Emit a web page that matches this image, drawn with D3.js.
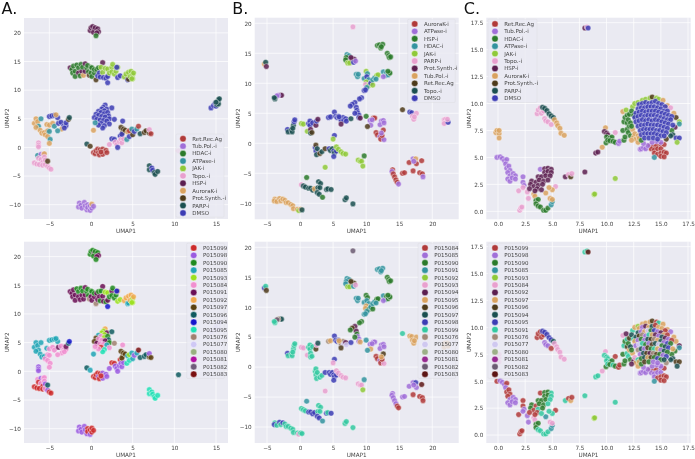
<!DOCTYPE html>
<html>
<head>
<meta charset="utf-8">
<script src="https://d3js.org/d3.v7.min.js"></script>
<style>
html,body{margin:0;padding:0;background:#fff;}
text{font-family:"DejaVu Sans",sans-serif;}
svg{display:block;filter:blur(0.3px);}
</style>
</head>
<body>
<script>
// moa codes used in the point lists
var moaNames = {R:"Ret.Rec.Ag",T:"Tub.Pol.-i",H:"HDAC-i",A:"ATPase-i",J:"JAK-i",O:"Topo.-i",S:"HSP-i",K:"AuroraK-i",P:"Prot.Synth.-i",F:"PARP-i",D:"DMSO"};

var moaOrderAC = ["R","T","H","A","J","O","S","K","P","F","D"];
var moaOrderB = ["K","A","S","H","J","F","P","T","R","O","D"];
var plateOrderA = [99,98,90,85,93,84,91,92,97,96,94,95,76,77,80,81,82,83];
var plateOrderB = [84,85,90,91,92,93,94,95,96,97,98,99,76,77,80,81,82,83];
var plateOrderC = [99,98,90,85,93,84,92,97,96,94,95,91,76,77,80,81,82,83];

var moaPalette = ["#b03a3a","#a06fd8","#2b7a2b","#33939f","#8fc93a","#e8a0cf","#5c1f50","#d9a25f","#4d3a1a","#1a4f50","#3c3cb4"];
var platePaletteA = ["#cc2a2a","#9a5be0","#1f8a1f","#20a5b5","#9be01f","#f08fd0","#6a0f55","#f0a84f","#5a4010","#0f5a5f","#1515cc","#20dfb5","#a08070","#cfc8f5","#98b080","#b010a0","#6f5a7a","#7a0f10"];
var platePaletteBC = ["#b03a3a","#a06fd8","#2b7a2b","#33939f","#8fc93a","#e8a0cf","#5c1f50","#d9a25f","#4d3a1a","#1a4f50","#3c3cb4","#33c8a0","#a08878","#cfc8f0","#9cb088","#962a90","#6b5b72","#5c1515"];

var ticksAx = [-5,0,5,10,15], ticksAy = [-10,-5,0,5,10,15,20];
var ticksBx = [-5,0,5,10,15,20], ticksBy = [-10,-5,0,5,10,15,20];
var ticksC = [0,2.5,5,7.5,10,12.5,15,17.5];

// [umap1, umap2, moa, plate]
var pointsA = [
[-0.1,20.4,"S",90],[0.0,20.9,"S",90],[0.2,21.1,"S",90],[0.4,20.6,"S",91],[0.3,20.1,"S",90],[0.5,20.9,"S",90],[0.8,20.7,"S",90],[0.9,20.2,"S",91],[0.7,20.0,"S",91],[0.6,19.5,"H",90],
[-2.5,13.9,"S",91],[-2.3,13.6,"H",91],[-2.1,14.2,"H",91],[-2.2,13.0,"H",91],[-1.9,13.3,"H",91],[-1.9,12.4,"H",91],[-1.7,14.4,"H",90],[-1.5,13.9,"H",90],[-1.5,13.0,"S",91],[-1.3,12.5,"H",91],[-1.2,14.5,"H",90],[-1.1,13.3,"S",91],[-1.0,14.0,"H",90],[-0.9,12.6,"K",91],[-0.7,13.3,"S",91],[-0.7,14.6,"S",91],[-0.5,13.9,"H",90],[-0.4,14.3,"H",90],[-0.3,13.2,"H",90],[-0.2,12.6,"P",76],[0.0,14.0,"H",90],[0.1,13.9,"H",90],
[0.0,13.0,"H",91],[0.1,12.4,"H",91],[0.4,13.0,"H",91],[0.4,13.6,"H",90],[0.6,11.8,"P",76],[0.7,13.6,"H",91],[0.8,12.5,"D",91],[0.9,13.9,"H",90],[1.0,13.0,"D",91],[1.1,12.3,"D",90],[1.4,14.8,"S",91],[1.2,14.0,"J",90],[1.4,13.1,"J",91],[1.5,12.2,"D",91],[1.7,13.8,"J",93],[1.8,12.1,"D",90],[2.0,13.7,"J",93],[2.0,12.4,"D",91],[2.0,11.3,"D",94],[2.2,13.0,"J",90],[2.5,14.0,"J",91],[2.5,13.2,"J",90],[2.6,14.5,"J",90],[2.8,12.8,"J",90],[3.0,13.3,"J",90],[3.1,13.9,"H",90],[3.2,12.2,"D",93],[3.2,14.0,"J",92],[3.5,12.5,"D",93],[3.1,14.0,"D",94],
[4.0,12.3,"J",92],[4.2,12.8,"J",92],[4.4,11.8,"D",85],[4.5,13.1,"J",92],[4.5,11.9,"P",85],[4.7,12.4,"J",92],[4.8,13.3,"J",92],[5.0,12.0,"J",93],[5.0,12.7,"J",93],[5.1,13.0,"J",92],[4.9,12.0,"J",93],
[14.4,6.9,"D",77],[14.7,7.3,"D",77],[14.9,7.7,"D",77],[15.0,7.2,"D",77],[15.1,7.5,"F",77],[15.2,8.0,"F",77],[15.3,7.6,"F",77],[15.3,8.3,"F",77],[15.4,8.5,"F",77],[15.0,7.9,"F",77],
[1.7,7.4,"D",92],[1.5,7.0,"D",93],[1.3,6.7,"D",93],[1.9,6.7,"D",91],[1.6,6.4,"D",93],[2.5,6.9,"D",96],[0.9,6.3,"D",85],[1.2,6.1,"D",84],[1.6,5.9,"D",93],[2.0,6.1,"D",90],[2.1,5.5,"D",96],[0.6,5.8,"D",97],[0.9,5.6,"D",84],[1.3,5.4,"D",84],[1.7,5.3,"D",91],[2.2,5.0,"D",90],[2.8,4.9,"D",76],[0.4,5.2,"D",97],[0.7,4.9,"D",91],[1.1,4.8,"D",84],[1.5,4.7,"D",84],[1.9,4.6,"D",85],[2.2,4.1,"D",84],[1.2,4.2,"D",99],[1.6,3.8,"D",95],[1.4,3.4,"D",95],[0.9,3.9,"D",84],[0.5,4.3,"A",84],[0.3,3.0,"K",85],[3.8,4.6,"D",84],
[-6.8,4.2,"K",85],[-6.6,5.0,"K",85],[-6.4,4.5,"K",85],[-6.3,3.7,"A",85],[-6.6,3.5,"K",85],[-6.1,3.0,"K",85],[-5.9,2.5,"K",85],[-5.6,2.6,"K",85],[-5.5,2.2,"K",84],[-5.2,2.9,"K",84],[-5.2,1.9,"K",84],[-5.0,2.8,"A",84],[-4.9,1.4,"A",84],[-5.0,0.7,"K",84],[-6.0,5.0,"A",85],[-5.3,4.0,"K",85],[-5.0,3.9,"K",84],[-4.6,4.2,"K",84],[-4.4,3.7,"A",84],[-5.0,5.4,"D",85],[-4.7,5.5,"D",85],[-4.4,5.6,"D",85],[-4.0,5.2,"D",85],[-4.2,5.7,"K",85],[-3.9,4.2,"D",91],[-3.6,4.4,"D",84],[-3.3,3.7,"D",84],[-3.0,3.8,"D",84],[-3.5,3.2,"K",84],[-3.2,3.4,"D",84],[-4.0,2.9,"A",84],[-3.0,4.3,"D",91],[-2.7,4.9,"P",96],[-2.6,5.2,"F",94],
[-6.3,0.8,"O",98],[-6.3,0.4,"O",98],[-6.3,0.1,"O",98],[-6.4,-1.4,"A",84],[-6.0,-1.2,"T",98],[-5.7,-1.2,"O",84],[-5.6,-1.1,"K",84],[-6.8,-2.7,"O",99],[-6.5,-2.9,"O",99],[-6.3,-1.9,"O",99],[-6.0,-2.1,"O",84],[-5.8,-2.6,"O",99],[-5.6,-1.7,"O",84],[-5.5,-2.2,"O",98],[-6.2,-3.0,"O",99],[-5.8,-3.1,"O",99],[-5.5,-3.0,"O",84],[-5.2,-3.3,"O",98],[-5.0,-3.6,"O",99],[-4.8,-3.8,"O",99],[-5.2,-2.4,"P",96],
[-0.5,0.6,"F",96],[-0.1,0.2,"P",85],[0.3,-0.9,"R",99],[0.5,-1.1,"R",99],[0.6,-0.6,"R",99],[0.8,-0.3,"R",99],[0.9,-0.9,"R",98],[1.1,-0.4,"R",99],[1.0,-1.3,"R",99],[1.4,-0.3,"R",98],[1.5,-0.8,"R",98],[1.4,-1.2,"R",98],[1.8,-0.5,"R",98],[1.9,-0.9,"R",98],[1.2,-0.8,"R",99],[2.2,0.5,"O",98],[2.5,1.5,"D",99],[2.8,1.4,"D",99],[2.9,0.9,"O",98],[3.1,0.5,"O",98],[3.2,0.0,"D",98],[3.4,1.0,"O",98],[3.5,2.0,"D",99],[3.6,1.4,"O",98],[3.7,0.8,"O",98],[3.9,1.5,"O",98],[3.8,2.6,"P",97],[3.6,3.5,"P",97],[3.9,3.2,"P",97],[3.7,2.3,"D",97],[4.1,3.0,"P",97],[4.4,2.7,"K",85],[4.3,1.4,"A",95],[4.6,1.9,"D",95],[4.6,2.9,"R",93],[4.9,3.2,"A",85],[5.0,2.2,"P",85],[5.2,2.8,"D",98],[5.5,3.2,"A",85],[5.7,3.7,"R",83],[5.9,2.4,"F",96],[6.4,2.6,"P",96],[6.6,2.9,"P",96],[7.0,2.5,"P",97],[7.0,3.1,"O",98],[7.2,2.4,"R",97],
[10.5,-0.6,"O",96],
[7.0,-3.2,"F",95],[7.0,-3.9,"F",95],[7.3,-3.6,"D",95],[7.4,-4.0,"D",95],[7.6,-4.4,"F",95],[7.7,-4.7,"F",95],[8.0,-4.2,"F",95],
[-1.4,-9.7,"T",98],[-1.5,-10.4,"T",98],[-1.2,-10.1,"T",98],[-1.1,-10.6,"T",98],[-0.8,-9.6,"T",98],[-0.7,-10.2,"T",98],[-0.5,-10.9,"T",98],[-0.4,-10.0,"T",99],[-0.4,-10.5,"T",99],[-0.1,-11.0,"T",98],[-0.1,-10.2,"T",99],[0.1,-10.6,"T",99],[0.1,-9.9,"K",99],[0.3,-10.3,"T",99]
];

var pointsB = [
[8.0,19.4,"F",82],[-5.4,13.2,"T",98],[-5.2,13.5,"O",99],[-5.1,12.8,"P",96],
[-3.0,8.0,"P",97],[-2.8,8.0,"P",97],[-3.3,8.0,"A",76],[-3.5,7.9,"A",82],[-3.8,7.4,"O",99],[-3.9,7.6,"O",99],
[11.7,16.3,"S",91],[12.0,16.4,"S",91],[12.2,15.9,"S",91],[12.5,16.5,"S",91],[12.3,16.1,"S",91],
[13.2,15.0,"S",90],[13.4,14.6,"S",90],[13.5,14.3,"S",90],[13.7,14.4,"S",90],
[7.1,14.8,"H",91],[7.4,14.6,"H",91],[7.0,14.3,"S",91],[6.9,13.9,"S",91],[7.2,13.4,"J",92],[7.5,13.4,"J",92],[7.9,14.1,"P",96],[8.2,14.0,"P",96],[8.1,13.5,"D",91],[8.4,13.7,"A",93],[7.7,14.3,"P",96],
[8.5,11.5,"H",91],[8.7,11.1,"H",91],[8.8,11.5,"H",91],[9.7,10.8,"H",91],[10.0,12.0,"J",90],[10.2,11.6,"H",90],[10.1,11.1,"D",91],[10.4,10.6,"H",91],[10.0,10.2,"J",95],[9.9,9.8,"F",95],[10.4,9.6,"J",90],[10.8,10.1,"J",90],[10.7,10.0,"D",91],[11.0,9.7,"J",90],[11.0,10.6,"H",91],[11.3,10.9,"H",91],[11.6,11.3,"J",90],[11.8,11.4,"J",90],[11.5,10.7,"H",91],[12.6,11.9,"H",91],[12.9,11.3,"H",91],[13.1,11.8,"H",90],[13.3,11.4,"H",90],[13.5,11.8,"S",90],[13.6,11.7,"S",90],[12.6,11.1,"A",85],[13.3,12.0,"S",90],
[9.7,8.8,"D",91],[10.1,9.3,"H",91],[9.9,8.9,"D",91],[9.3,7.6,"D",90],[9.0,7.4,"D",90],[8.3,6.8,"D",94],[7.9,6.5,"D",96],[7.6,6.2,"D",90],[8.5,6.0,"D",94],[8.6,5.5,"D",90],[8.7,5.1,"D",85],[8.9,4.7,"D",85],[8.3,5.0,"D",90],[8.9,4.3,"D",85],
[9.1,4.2,"P",95],[10.0,4.5,"S",91],[11.1,4.2,"K",85],[11.3,4.2,"K",85],[10.6,3.8,"A",85],[10.9,3.9,"A",85],[10.7,3.0,"A",95],[10.2,2.8,"R",91],
[4.3,4.3,"D",76],[4.6,4.4,"D",95],[5.2,5.2,"D",98],[5.4,4.5,"D",98],[5.6,4.3,"D",98],[5.8,4.5,"D",98],[6.0,4.2,"D",76],[6.2,3.9,"D",76],[6.5,4.3,"D",76],[6.6,3.8,"D",77],[6.9,4.1,"D",94],[7.0,3.7,"D",77],[6.2,3.2,"P",96],[5.9,4.4,"D",95],[7.7,4.1,"O",98],
[12.3,3.7,"A",85],[12.6,3.8,"A",85],[12.1,3.1,"A",85],[12.7,3.4,"A",85],[12.6,2.2,"K",96],[11.5,1.8,"K",84],[11.7,1.4,"K",84],[12.1,1.1,"A",85],[12.4,0.9,"A",85],[12.2,0.7,"K",84],[12.7,0.6,"A",93],[12.4,1.3,"K",84],[12.3,1.7,"A",95],
[15.5,5.6,"R",99],[16.6,5.2,"D",95],[16.9,5.1,"D",95],[17.0,4.5,"F",95],[17.2,4.0,"F",95],[17.6,5.0,"F",95],[17.3,4.4,"F",95],
[21.8,3.9,"F",95],[22.0,4.0,"F",95],[22.2,3.6,"F",95],[21.8,3.3,"F",95],[22.4,3.5,"D",95],[22.3,4.0,"F",95],
[-1.9,2.3,"D",98],[-1.8,1.9,"O",99],[-1.3,2.2,"O",99],[-1.2,1.9,"O",99],[-1.0,3.0,"O",99],[-0.9,3.6,"D",99],[-0.8,3.9,"D",99],[-1.1,2.5,"O",99],
[0.2,3.3,"J",93],[0.5,3.2,"J",93],[1.1,2.0,"J",93],[1.3,3.3,"D",99],[1.5,3.7,"D",99],[1.5,3.0,"D",99],[1.6,2.3,"P",99],[1.6,1.7,"O",99],[1.8,1.8,"R",99],[1.9,3.4,"D",99],[2.4,3.0,"P",96],[2.5,3.7,"D",93],[2.7,4.0,"P",97],
[5.2,1.3,"D",98],[5.0,0.7,"J",93],
[2.3,-0.7,"D",99],[2.4,-0.3,"R",99],[2.4,-1.3,"D",99],[2.6,-0.9,"O",99],[2.5,-1.9,"O",99],[3.0,-1.7,"R",99],[3.3,-1.4,"O",99],[3.8,-0.9,"R",98],[4.4,-0.9,"D",98],[4.6,-1.2,"O",98],[4.9,-0.9,"O",98],[5.1,-1.3,"D",98],[5.2,-1.6,"O",98],[5.1,-2.2,"D",98],[5.5,-1.3,"D",98],[5.5,-0.6,"J",93],[5.8,-1.0,"J",93],[6.2,-1.4,"J",93],[6.5,-1.7,"J",93],[6.9,-1.8,"J",93],
[8.8,-2.8,"J",93],[9.1,-3.0,"J",93],[9.3,-3.0,"J",93],[9.7,-2.1,"S",91],[9.5,-3.8,"J",92],[3.8,-4.0,"J",93],
[14.0,-4.4,"K",85],[13.9,-4.7,"A",85],[14.1,-5.1,"K",85],[14.3,-5.6,"K",85],[14.5,-6.1,"K",85],[14.7,-6.5,"K",84],[14.9,-6.8,"A",84],
[15.5,-5.0,"K",85],[15.8,-4.9,"K",85],[16.5,-3.2,"K",85],[17.1,-2.6,"A",85],[17.5,-2.6,"T",98],[17.6,-3.4,"K",85],[17.1,-4.6,"K",84],[18.1,-4.9,"K",84],[18.4,-2.9,"K",83],[18.5,-5.1,"K",84],[18.6,-5.6,"A",84],[17.2,-3.0,"A",85],
[1.0,-5.7,"S",91],[0.2,-6.9,"F",99],[0.5,-7.1,"O",99],[0.8,-7.3,"O",99],[1.3,-7.5,"O",98],[1.6,-7.5,"O",98],[1.9,-7.8,"O",98],[2.2,-7.6,"T",98],[2.8,-6.4,"O",99],[3.1,-6.7,"O",99],[2.7,-7.4,"O",99],[3.0,-7.4,"O",99],[2.6,-8.2,"O",98],[2.9,-8.5,"O",98],[3.4,-9.0,"S",91],[4.0,-7.7,"O",98],[4.2,-7.6,"O",99],[4.7,-7.7,"O",98],
[6.8,-9.4,"O",99],[7.0,-9.1,"O",99],[8.0,-10.1,"O",99],
[-3.8,-9.3,"T",99],[-3.9,-9.6,"T",98],[-3.5,-9.7,"T",99],[-3.1,-9.2,"T",98],[-2.9,-9.6,"T",99],[-2.6,-9.3,"T",98],[-2.3,-9.5,"T",99],[-2.1,-9.9,"T",99],[-1.8,-9.9,"T",99],[-1.4,-10.2,"T",99],[-1.1,-10.4,"T",99],[-1.0,-10.9,"T",99],[-0.4,-11.0,"T",99],[-0.2,-11.2,"J",93],[0.1,-11.0,"T",99],[0.3,-11.1,"O",99]
];

var pointsC = [
[8.0,17.0,"S",91],[8.2,17.1,"O",91],[8.3,17.0,"D",83],
[-0.2,7.3,"K",84],[-0.1,7.5,"K",84],[0.1,7.2,"K",84],[0.1,7.5,"K",84],[0.1,6.8,"K",84],
[3.6,9.05,"O",99],[3.7,9.4,"O",99],[3.9,9.6,"O",99],[4.1,9.5,"O",99],[4.0,9.1,"O",99],[4.2,9.3,"O",99],[4.3,8.6,"O",98],[4.4,8.4,"O",98],[4.6,8.3,"O",98],[4.9,8.05,"O",99],
[4.1,9.65,"F",95],[4.3,9.55,"F",95],[4.5,9.35,"F",95],[4.7,9.05,"F",95],[4.9,8.85,"F",95],[5.1,8.7,"F",94],
[5.2,8.5,"K",84],[5.4,8.2,"K",84],[5.5,7.95,"K",84],[5.7,7.7,"K",84],[5.8,7.25,"K",84],[6.1,7.05,"K",84],
[-0.1,5.0,"T",99],[0.2,5.05,"T",98],[0.4,4.9,"T",98],[0.6,4.7,"T",98],[0.8,4.8,"T",99],[0.7,4.4,"T",98],[0.8,4.0,"T",99],[1.0,4.2,"T",99],[1.1,3.8,"T",99],[0.9,3.6,"T",99],[1.1,3.3,"T",98],[1.4,3.5,"T",98],[1.6,3.3,"T",98],[0.9,3.0,"T",98],[1.1,2.8,"T",98],[1.3,3.1,"T",98],[1.6,3.0,"T",98],[2.3,3.2,"T",99],[2.3,2.7,"T",99],[2.4,2.4,"T",98],
[1.9,1.9,"O",99],[2.3,2.2,"O",98],[2.0,0.1,"O",99],[2.1,0.3,"O",99],[2.2,0.4,"O",99],[2.8,1.2,"O",98],[2.7,1.8,"O",98],[3.3,1.6,"K",84],[3.4,1.4,"K",84],[5.3,2.3,"O",99],[5.0,2.0,"K",91],[4.7,2.2,"K",91],[4.4,1.7,"K",85],
[3.9,3.9,"T",99],[4.3,3.95,"S",90],[4.6,4.0,"S",90],[4.9,3.9,"S",91],[4.3,3.6,"S",90],[4.6,3.7,"S",90],[4.9,3.6,"S",91],[3.7,3.2,"S",90],[4.0,3.2,"S",90],[4.4,3.3,"S",90],[4.8,3.3,"S",91],[3.1,2.8,"S",90],[3.5,2.7,"S",99],[3.8,2.9,"S",90],[4.2,2.8,"S",90],[4.6,2.9,"S",91],[3.0,2.5,"S",90],[3.3,2.3,"S",99],[3.7,2.4,"S",91],[4.1,2.5,"S",90],[3.6,2.1,"S",99],[4.0,2.0,"S",91],[3.4,1.9,"S",99],[2.9,2.1,"S",99],
[3.5,1.0,"H",90],[3.7,1.1,"H",90],[3.5,0.7,"H",90],[3.7,0.5,"H",91],[3.9,0.4,"H",91],[4.2,0.1,"H",91],[4.4,0.1,"H",91],[4.6,0.3,"H",91],[4.9,0.6,"A",85],[5.0,0.9,"A",85],[4.8,1.2,"K",84],[5.0,1.1,"K",84],
[6.2,3.2,"S",91],[6.5,3.4,"O",99],[6.7,3.2,"P",97],[6.8,3.5,"O",99],[8.0,3.65,"S",91],[9.0,5.4,"S",91],[9.2,5.5,"S",91],[9.6,5.95,"K",84],[10.8,3.05,"J",91],[8.85,1.55,"J",93],[8.9,1.6,"J",93],
[9.9,7.75,"K",84],[9.8,7.4,"S",91],[10.0,7.25,"S",91],[10.1,7.1,"S",91],[10.0,6.9,"H",91],[10.3,6.8,"H",91],[10.5,6.9,"H",90],[9.95,6.35,"H",90],[10.1,6.6,"H",91],[10.3,6.55,"H",90],[10.6,6.5,"H",91],[10.8,6.4,"H",90],[10.8,7.3,"O",99],[11.1,6.3,"T",99],[11.2,6.5,"T",99],[11.6,6.6,"H",90],[11.7,6.9,"H",90],[11.5,7.5,"H",90],[11.5,9.25,"K",84],[11.6,8.3,"H",91],[11.9,7.6,"H",91],
[14.0,6.1,"R",99],[14.3,6.0,"R",99],[14.6,6.1,"R",99],[15.0,6.2,"R",98],[15.3,6.2,"R",99],[14.1,5.8,"R",98],[14.4,5.7,"R",98],[14.7,5.8,"R",98],[15.0,5.8,"R",98],[14.4,5.4,"R",98],[14.7,5.3,"R",99],[15.0,5.4,"R",99],[15.3,5.5,"R",99],[15.5,5.4,"R",99],[15.0,5.1,"R",99],[15.3,5.05,"R",99],[14.4,5.0,"A",85],
[13.1,5.75,"T",98],[13.2,5.8,"T",98],[13.4,5.9,"T",98],[13.6,5.8,"T",98],[13.8,6.1,"T",98],[13.4,6.3,"T",98],
[11.7,8.7,"H",90],[11.9,8.9,"H",91],[11.9,8.2,"H",96],[12.1,7.9,"H",97],[12.0,7.3,"H",91],[12.2,7.0,"H",90],[12.5,6.9,"K",92],[12.7,6.7,"K",97],[12.3,6.6,"K",92],[12.9,6.4,"K",97],[11.8,9.4,"J",92],
[12.0,8.5,"H",90],[12.1,9.0,"H",96],[12.2,8.2,"H",94],[12.4,9.7,"J",91],[12.3,9.3,"H",94],[12.5,8.9,"H",91],[12.6,10.0,"J",97],[12.9,10.1,"J",93],[12.4,7.6,"K",97],[12.6,7.2,"K",84],[12.9,7.0,"K",91],[12.3,7.9,"H",90],[13.0,6.8,"K",97],[13.2,6.6,"H",90],[13.3,10.3,"J",97],[13.6,10.4,"J",97],[14.0,10.5,"J",97],[14.2,10.6,"P",96],[14.6,10.5,"J",99],[14.8,10.4,"J",91],[15.2,10.3,"K",97],[15.6,9.8,"K",97],[15.9,9.6,"O",98],[16.2,9.1,"K",97],[16.4,8.7,"P",97],[16.7,8.3,"J",92],[16.7,8.1,"A",85],[16.3,7.8,"S",90],[16.0,7.5,"H",90],[16.1,7.1,"F",94],[16.4,6.8,"D",96],[16.7,6.8,"D",96],[16.5,6.4,"J",94],[15.9,7.0,"F",94],[15.5,6.7,"P",76],[15.0,6.4,"T",98],[14.6,6.5,"T",98],[14.2,6.4,"T",98],
[13.0,9.9,"D",97],[13.3,10.0,"D",98],[13.6,10.1,"D",92],[13.9,10.0,"D",97],[14.2,10.1,"D",94],[14.5,10.2,"D",99],[14.8,10.0,"D",97],[15.1,9.9,"D",97],[15.4,9.7,"D",99],[12.9,9.5,"D",94],[13.2,9.6,"D",98],[13.5,9.6,"D",97],[13.8,9.7,"D",77],[14.1,9.7,"D",90],[14.4,9.7,"D",95],[14.7,9.6,"D",98],[15.0,9.5,"D",92],[15.3,9.3,"D",97],[15.6,9.3,"D",99],[12.7,9.1,"D",94],[13.0,9.2,"D",96],[13.3,9.3,"D",76],[13.6,9.2,"D",98],[13.9,9.3,"D",91],[14.2,9.3,"D",97],[14.5,9.3,"D",92],[14.8,9.2,"D",98],[15.1,9.1,"D",94],[15.4,9.0,"D",92],[15.7,8.9,"D",98],[16.0,8.8,"D",99],
[12.6,8.7,"D",97],[12.9,8.8,"D",98],[13.2,8.9,"D",90],[13.5,8.8,"D",98],[13.8,8.9,"D",94],[14.1,8.9,"D",96],[14.4,8.9,"D",76],[14.7,8.8,"D",97],[15.0,8.7,"D",94],[15.3,8.6,"D",98],[15.6,8.5,"D",95],[15.9,8.5,"D",90],[12.7,8.3,"D",98],[13.0,8.4,"D",77],[13.3,8.5,"D",91],[13.6,8.4,"D",90],[13.9,8.5,"D",98],[14.2,8.4,"D",96],[14.5,8.5,"D",94],[14.8,8.4,"D",77],[15.1,8.3,"D",90],[15.4,8.2,"D",94],[15.7,8.1,"D",95],[16.1,8.0,"D",97],
[12.9,7.9,"D",76],[13.2,8.0,"D",94],[13.5,8.0,"D",98],[13.8,8.1,"D",96],[14.1,8.0,"D",90],[14.4,8.0,"D",91],[14.7,8.0,"D",97],[15.0,7.9,"D",98],[15.3,7.8,"D",94],[15.6,7.7,"D",90],[13.1,7.5,"D",98],[13.4,7.6,"D",94],[13.7,7.6,"D",96],[14.0,7.6,"D",92],[14.3,7.6,"D",76],[14.6,7.5,"D",96],[14.9,7.5,"D",90],[15.2,7.4,"D",98],[15.5,7.3,"D",95],[13.2,7.1,"D",90],[13.5,7.2,"D",94],[13.8,7.2,"D",97],[14.1,7.2,"D",96],[14.4,7.2,"D",90],[14.7,7.1,"D",95],[15.0,7.0,"D",90],[15.3,7.0,"D",94],[13.5,6.8,"D",96],[13.9,6.8,"D",90],[14.3,6.8,"D",98],[14.7,6.7,"D",98]
];

var svg = d3.select("body").append("svg").attr("width",695).attr("height",459);

var xDomains = {A:[-8.04,16.44],B:[-6.86,24],C:[-1.08,17.75]};

var panels = [
 {col:"A",points:pointsA,mode:"moa",left:24,right:228,top:18,bottom:219,yDom:[-12.5,22.6],xt:ticksAx,yt:ticksAy,lab:"A.",legendX:176,legendY:134,legendW:48},
 {col:"B",points:pointsB,mode:"moa",left:254.7,right:458.7,top:17.7,bottom:219.3,yDom:[-12.67,20.93],xt:ticksBx,yt:ticksBy,lab:"B.",legendX:407.7,legendY:19.2,legendW:47.5},
 {col:"C",points:pointsC,mode:"moa",left:486.3,right:690.7,top:17.7,bottom:219.3,yDom:[-0.74,17.96],xt:ticksC,yt:ticksC,lab:"C.",legendX:488,legendY:19.2,legendW:49},
 {col:"A",points:pointsA,mode:"plate",left:24,right:228,top:241.7,bottom:443,yDom:[-12.5,22.6],xt:ticksAx,yt:ticksAy,legendX:186.7,legendY:243.2,legendW:37.5},
 {col:"B",points:pointsB,mode:"plate",left:254.7,right:458.7,top:241.7,bottom:443,yDom:[-12.67,20.93],xt:ticksBx,yt:ticksBy,legendX:418,legendY:243.2,legendW:37.5},
 {col:"C",points:pointsC,mode:"plate",left:486.3,right:690.7,top:241.7,bottom:443,yDom:[-0.74,17.96],xt:ticksC,yt:ticksC,legendX:488,legendY:243.2,legendW:39}
];

panels.forEach(drawPanel);

function drawPanel(p){
	var g = svg.append("g");
	var x = d3.scaleLinear().domain(xDomains[p.col]).range([p.left,p.right]);
	var y = d3.scaleLinear().domain(p.yDom).range([p.bottom,p.top]);
	var fmt = p.col == "C" ? d3.format(".1f") : d3.format("d");

	g.append("rect").attr("x",p.left).attr("y",p.top)
		.attr("width",p.right-p.left).attr("height",p.bottom-p.top).attr("fill","#eaeaf2");

	g.selectAll(".vg").data(p.xt).enter().append("line")
		.attr("x1",d=>x(d)).attr("x2",d=>x(d)).attr("y1",p.top).attr("y2",p.bottom)
		.attr("stroke","#fff").attr("stroke-width",0.7);
	g.selectAll(".hg").data(p.yt).enter().append("line")
		.attr("y1",d=>y(d)).attr("y2",d=>y(d)).attr("x1",p.left).attr("x2",p.right)
		.attr("stroke","#fff").attr("stroke-width",0.7);

	var xAxis = g.append("g").attr("transform","translate(0,"+p.bottom+")")
		.call(d3.axisBottom(x).tickValues(p.xt).tickSize(0).tickPadding(3).tickFormat(fmt));
	var yAxis = g.append("g").attr("transform","translate("+p.left+",0)")
		.call(d3.axisLeft(y).tickValues(p.yt).tickSize(0).tickPadding(3).tickFormat(fmt));
	[xAxis,yAxis].forEach(function(a){
		a.select(".domain").remove();
		a.selectAll("text").attr("font-size",5.7).attr("font-family","DejaVu Sans").attr("fill","#444");
	});

	g.append("text").text("UMAP1").attr("x",(p.left+p.right)/2).attr("y",p.bottom+14)
		.attr("text-anchor","middle").attr("font-size",5.7).attr("fill","#444");
	var lx = p.col == "A" ? 6.5 : p.col == "B" ? 237.5 : 468.5;
	g.append("text").text("UMAP2")
		.attr("transform","translate("+lx+","+((p.top+p.bottom)/2)+") rotate(-90)")
		.attr("text-anchor","middle").attr("dy","0.35em").attr("font-size",5.7).attr("fill","#444");

	// colour scale and legend entries depend on what the row is coloured by
	var domain, palette, name, key;
	if(p.mode == "moa"){
		domain = p.col == "B" ? moaOrderB : moaOrderAC;
		palette = moaPalette;
		name = d => moaNames[d];
		key = d => d[2];
	} else {
		domain = p.col == "A" ? plateOrderA : p.col == "B" ? plateOrderB : plateOrderC;
		palette = p.col == "A" ? platePaletteA : platePaletteBC;
		name = d => "P0150" + d;
		key = d => d[3];
	}
	var color = d3.scaleOrdinal().domain(domain).range(palette);

	g.selectAll("circle.pt").data(p.points).enter().append("circle")
		.attr("class","pt")
		.attr("cx",d=>x(d[0])).attr("cy",d=>y(d[1])).attr("r",2.8)
		.attr("fill",d=>color(key(d)))
		.attr("fill-opacity",0.85)
		.attr("stroke","#fff").attr("stroke-width",0.5).attr("stroke-opacity",0.8);

	// legend
	var rowH = 7.43;
	var legH = domain.length*rowH + 1.5;
	g.append("rect").attr("x",p.legendX).attr("y",p.legendY).attr("rx",1).attr("ry",1)
		.attr("width",p.legendW).attr("height",legH)
		.attr("fill","#eaeaf2").attr("fill-opacity",0.8).attr("stroke","#ccc").attr("stroke-opacity",0.4).attr("stroke-width",0.5);
	var item = g.selectAll(".leg").data(domain).enter().append("g")
		.attr("transform",(d,i)=>"translate("+(p.legendX+7)+","+(p.legendY+4.7+i*rowH)+")");
	item.append("circle").attr("r",3.2).attr("fill",d=>color(d))
		.attr("stroke","#fff").attr("stroke-width",0.4);
	item.append("text").text(name).attr("x",9.2).attr("dy","0.35em")
		.attr("font-size",5.5).attr("fill","#444");

	if(p.lab){
		svg.append("text").text(p.lab).attr("x",p.left-22.5).attr("y",13.5)
			.attr("font-size",16).attr("fill","#111");
	}
}
</script>
</body>
</html>
